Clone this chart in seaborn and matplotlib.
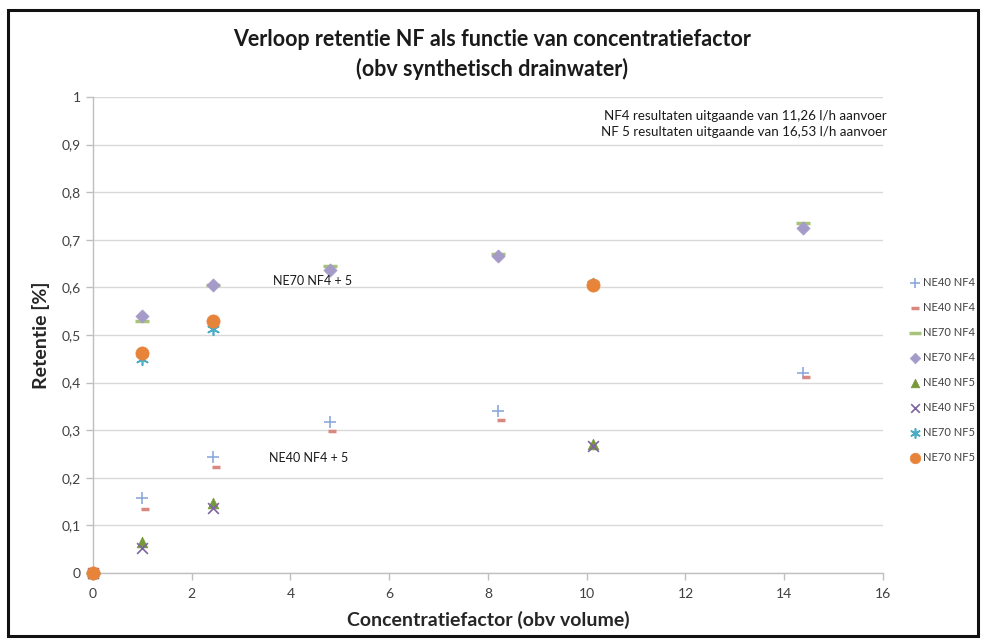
import matplotlib
matplotlib.use("Agg")
import matplotlib.pyplot as plt
import seaborn as sns
import pandas as pd
from matplotlib.patches import Rectangle
from matplotlib.ticker import FuncFormatter, MultipleLocator

sns.set_theme(style="white")
plt.rcParams['font.family'] = ['Lato', 'DejaVu Sans']

# ---- data ----
x_nf4 = [0, 1.0, 2.43, 4.79, 8.2, 14.38]
x_nf4_b = [0.06, 1.06, 2.49, 4.85, 8.26, 14.44]
x_nf5 = [0, 1.0, 2.43, 10.12]

ne40_nf4_a = [0, 0.158, 0.244, 0.318, 0.341, 0.421]
ne40_nf4_b = [0, 0.134, 0.222, 0.299, 0.322, 0.412]
ne70_nf4_a = [0, 0.530, 0.605, 0.646, 0.670, 0.735]
ne70_nf4_b = [0, 0.539, 0.604, 0.637, 0.667, 0.724]
ne40_nf5_a = [0, 0.066, 0.147, 0.271]
ne40_nf5_b = [0, 0.052, 0.136, 0.267]
ne70_nf5_a = [0, 0.450, 0.512, 0.607]
ne70_nf5_b = [0, 0.463, 0.529, 0.604]

labels = ["NE40 NF4", "NE40 NF4", "NE70 NF4", "NE70 NF4",
          "NE40 NF5", "NE40 NF5", "NE70 NF5", "NE70 NF5"]

series = [
    (x_nf4, ne40_nf4_a, "+", "#8DA9DB", 70, 1.2),
    (x_nf4_b, ne40_nf4_b, "_", "#D98880", 40, 2.5),
    (x_nf4, ne70_nf4_a, "_", "#A9C47A", 110, 2.5),
    (x_nf4, ne70_nf4_b, "D", "#A59BC8", 45, 0),
    (x_nf5, ne40_nf5_a, "^", "#77993A", 60, 0),
    (x_nf5, ne40_nf5_b, "x", "#7E64A0", 60, 1.2),
    (x_nf5, ne70_nf5_a, (6, 2, 0), "#4BACC6", 70, 1.2),
    (x_nf5, ne70_nf5_b, "o", "#E8833A", 90, 0),
]

fig = plt.figure(figsize=(9.87, 6.43), dpi=100)
ax = fig.add_axes([93/987, 1-573/643, (883-93)/987, (573-97)/643])

for (xs, ys, mk, col, sz, lw), lab in zip(series, labels):
    df = pd.DataFrame({"x": xs, "y": ys})
    if mk in ("+", "_", "x") or isinstance(mk, tuple):
        sns.scatterplot(data=df, x="x", y="y", ax=ax, marker=mk, color=col,
                        s=sz, linewidth=lw, label=lab, zorder=3, clip_on=False)
    else:
        sns.scatterplot(data=df, x="x", y="y", ax=ax, marker=mk, color=col,
                        s=sz, edgecolor=col, linewidth=0.5, label=lab,
                        zorder=3, clip_on=False)

ax.set_xlim(0, 16)
ax.set_ylim(0, 1)
ax.xaxis.set_major_locator(MultipleLocator(2))
ax.yaxis.set_major_locator(MultipleLocator(0.1))
ax.yaxis.set_major_formatter(FuncFormatter(
    lambda v, p: "0" if abs(v) < 1e-9 else ("1" if abs(v-1) < 1e-9 else f"{v:.1f}".replace(".", ","))))
ax.grid(axis="y", color="#D9D9D9", linewidth=1.0)
ax.grid(axis="x", visible=False)
ax.set_axisbelow(True)
for s in ["top", "right"]:
    ax.spines[s].set_visible(False)
for s in ["left", "bottom"]:
    ax.spines[s].set_color("#BFBFBF")
    ax.spines[s].set_linewidth(1.0)
ax.tick_params(axis="both", which="major", length=5, width=1, color="#BFBFBF",
               labelsize=10, labelcolor="#404040", direction="out", pad=4)
ax.tick_params(axis="x", bottom=True, pad=6)
ax.tick_params(axis="y", left=True)

ax.set_xlabel("Concentratiefactor (obv volume)", fontsize=14, fontweight="bold",
              color="#262626", labelpad=8)
ax.set_ylabel("Retentie [%]", fontsize=14, fontweight="bold", color="#262626",
              labelpad=8)

fig.text(492/987, 1-40/643, "Verloop retentie NF als functie van concentratiefactor",
         ha="center", va="center", fontsize=15.5, fontweight="bold", color="#1a1a1a")
fig.text(492/987, 1-69/643, "(obv synthetisch drainwater)",
         ha="center", va="center", fontsize=15.5, fontweight="bold", color="#1a1a1a")

ax.text(4.44, 0.60, "NE70 NF4 + 5", fontsize=9, color="#1a1a1a", ha="center", va="bottom")
ax.text(4.36, 0.23, "NE40 NF4 + 5", fontsize=9, color="#1a1a1a", ha="center", va="bottom")
ax.text(16.08, 0.96, "NF4 resultaten uitgaande van 11,26 l/h aanvoer",
        fontsize=9.6, color="#1a1a1a", ha="right", va="center")
ax.text(16.08, 0.926, "NF 5 resultaten uitgaande van 16,53 l/h aanvoer",
        fontsize=9.6, color="#1a1a1a", ha="right", va="center")

leg = ax.legend(loc="upper left", bbox_to_anchor=(905/987, 1-271/643),
                bbox_transform=fig.transFigure, frameon=False, fontsize=8,
                handlelength=0.8, handletextpad=0.3, labelspacing=1.27,
                markerscale=0.8, borderpad=0)
for t in leg.get_texts():
    t.set_color("#404040")

fig.patches.append(Rectangle((8/987, 1-636/643), (978-8)/987, (636-10)/643,
                             transform=fig.transFigure, fill=False,
                             edgecolor="#111111", linewidth=2.2))

fig.savefig("out.png", dpi=100, facecolor="white")
